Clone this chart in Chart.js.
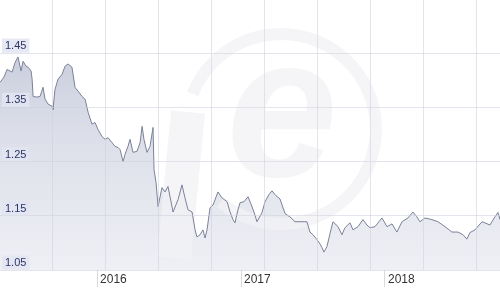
<!DOCTYPE html>
<html>
<head>
<meta charset="utf-8">
<script src="https://cdn.jsdelivr.net/npm/chart.js@4"></script>
<style>
  html, body { margin: 0; padding: 0; background: #fff; }
  #wrap { width: 500px; height: 293px; position: relative; }
</style>
</head>
<body>
<div id="wrap"><canvas id="rateChart"></canvas></div>
<script>
// time in decimal years, rate
const years = [
  2015.326, 2015.354, 2015.375, 2015.410, 2015.431, 2015.451, 2015.472, 2015.486, 2015.507, 2015.521,
  2015.542, 2015.549, 2015.556, 2015.583, 2015.604, 2015.625, 2015.639, 2015.660, 2015.688, 2015.694,
  2015.708, 2015.729, 2015.757, 2015.778, 2015.799, 2015.826, 2015.847, 2015.868, 2015.896, 2015.917,
  2015.938, 2015.965, 2015.986, 2016.007, 2016.035, 2016.056, 2016.076, 2016.104, 2016.125, 2016.146,
  2016.160, 2016.181, 2016.194, 2016.215, 2016.229, 2016.250, 2016.278, 2016.299, 2016.313, 2016.326,
  2016.347, 2016.368, 2016.389, 2016.396, 2016.410, 2016.424, 2016.451, 2016.472, 2016.493, 2016.528,
  2016.563, 2016.590, 2016.611, 2016.632, 2016.660, 2016.681, 2016.694, 2016.715, 2016.736, 2016.750,
  2016.764, 2016.785, 2016.806, 2016.840, 2016.868, 2016.903, 2016.924, 2016.944, 2016.958, 2016.979,
  2016.993, 2017.021, 2017.049, 2017.069, 2017.090, 2017.111, 2017.146, 2017.167, 2017.194, 2017.215,
  2017.243, 2017.271, 2017.306, 2017.340, 2017.375, 2017.410, 2017.458, 2017.479, 2017.500, 2017.528,
  2017.549, 2017.563, 2017.576, 2017.597, 2017.618, 2017.639, 2017.674, 2017.701, 2017.722, 2017.757,
  2017.778, 2017.813, 2017.847, 2017.875, 2017.896, 2017.931, 2017.979, 2018.014, 2018.049, 2018.083,
  2018.118, 2018.160, 2018.194, 2018.222, 2018.243, 2018.278, 2018.326, 2018.368, 2018.417, 2018.465,
  2018.507, 2018.542, 2018.569, 2018.590, 2018.625, 2018.674, 2018.694, 2018.729, 2018.764, 2018.785,
  2018.799
];
const rates = [
  1.396, 1.406, 1.420, 1.415, 1.433, 1.443, 1.417, 1.435, 1.426, 1.424,
  1.417, 1.402, 1.370, 1.369, 1.370, 1.387, 1.365, 1.356, 1.352, 1.346,
  1.383, 1.402, 1.411, 1.426, 1.430, 1.424, 1.387, 1.380, 1.370, 1.365,
  1.341, 1.319, 1.322, 1.309, 1.296, 1.291, 1.294, 1.285, 1.278, 1.276,
  1.272, 1.250, 1.263, 1.278, 1.291, 1.267, 1.269, 1.285, 1.315, 1.291,
  1.267, 1.278, 1.313, 1.235, 1.211, 1.167, 1.202, 1.194, 1.204, 1.157,
  1.180, 1.207, 1.183, 1.161, 1.157, 1.124, 1.111, 1.115, 1.124, 1.109,
  1.124, 1.165, 1.170, 1.194, 1.183, 1.176, 1.157, 1.143, 1.137, 1.161,
  1.174, 1.176, 1.185, 1.172, 1.157, 1.139, 1.156, 1.176, 1.189, 1.196,
  1.187, 1.181, 1.154, 1.148, 1.139, 1.139, 1.139, 1.120, 1.115, 1.106,
  1.098, 1.091, 1.083, 1.093, 1.117, 1.139, 1.130, 1.115, 1.128, 1.137,
  1.124, 1.130, 1.143, 1.133, 1.128, 1.130, 1.146, 1.130, 1.135, 1.120,
  1.139, 1.146, 1.157, 1.148, 1.139, 1.146, 1.143, 1.139, 1.130, 1.120,
  1.120, 1.115, 1.107, 1.119, 1.124, 1.139, 1.137, 1.133, 1.148, 1.156,
  1.143
];
const yearTicks = [2016, 2017, 2018];
const rateTicks = [1.05, 1.15, 1.25, 1.35, 1.45];

const FONT = '"Liberation Sans", Arial, sans-serif';

function noPad(s) {
  s.paddingTop = 0; s.paddingBottom = 0; s.paddingLeft = 0; s.paddingRight = 0;
}

// faint "xe" logo behind the line, drawn over the fill
const watermark = {
  id: 'watermark',
  beforeDatasetsDraw(chart) {
    const c = chart.ctx;
    c.save();
    c.strokeStyle = 'rgba(241,242,246,0.75)';
    c.fillStyle = 'rgba(241,242,246,0.75)';
    c.lineWidth = 12;
    c.beginPath();
    c.arc(281, 129, 95, Math.PI * 1.12, Math.PI * 0.72, false);
    c.stroke();
    c.lineWidth = 34;
    c.lineCap = 'butt';
    c.beginPath();
    c.moveTo(188, 112);
    c.lineTo(174, 258);
    c.stroke();
    c.font = 'bold italic 200px ' + FONT;
    c.textAlign = 'center';
    c.textBaseline = 'alphabetic';
    c.fillText('e', 282, 176);
    c.restore();
  }
};

new Chart(document.getElementById('rateChart'), {
  type: 'line',
  data: {
    datasets: [{
      data: years.map((y, i) => ({ x: y, y: rates[i] })),
      borderColor: '#7b8197',
      borderWidth: 1,
      pointRadius: 0,
      tension: 0,
      fill: 'start',
      backgroundColor: (ctx) => {
        const a = ctx.chart.chartArea;
        if (!a) return 'rgba(200,205,222,0.6)';
        const g = ctx.chart.ctx.createLinearGradient(0, a.top, 0, a.bottom);
        g.addColorStop(0, '#bfc4d6');
        g.addColorStop(0.5, '#dcdfe9');
        g.addColorStop(1, '#eff0f5');
        return g;
      }
    }]
  },
  options: {
    responsive: true,
    maintainAspectRatio: false,
    animation: false,
    layout: { padding: 0 },
    plugins: {
      legend: { display: false },
      tooltip: { enabled: false },
      filler: { drawTime: 'beforeDatasetsDraw' }
    },
    scales: {
      x: {
        type: 'linear',
        position: 'bottom',
        min: 2015.326,
        max: 2018.799,
        afterBuildTicks: (s) => { s.ticks = yearTicks.map(v => ({ value: v })); },
        afterFit: (s) => { s.height = 23; noPad(s); },
        border: { display: false },
        grid: { drawOnChartArea: false, drawTicks: true, tickLength: 17, color: '#d9dae0' },
        ticks: {
          align: 'start',
          labelOffset: 3,
          padding: -15,
          color: '#333333',
          font: { family: FONT, size: 12 },
          callback: (v) => String(v)
        }
      },
      xg: {
        type: 'linear',
        position: 'top',
        min: 0,
        max: 500,
        afterBuildTicks: (s) => {
          const t = [];
          for (let p = 52; p < 500; p += 53) t.push({ value: p });
          s.ticks = t;
        },
        afterFit: (s) => { s.height = 0; noPad(s); },
        border: { display: false },
        grid: { drawTicks: false, color: 'rgba(205,208,220,0.55)', z: 1 },
        ticks: { display: false }
      },
      y: {
        type: 'linear',
        position: 'left',
        min: 1.05,
        max: 1.548,
        afterBuildTicks: (s) => { s.ticks = rateTicks.map(v => ({ value: v })); },
        afterFit: (s) => { s.width = 0; noPad(s); },
        border: { display: false },
        grid: { drawTicks: false, color: 'rgba(205,208,220,0.55)', z: 1 },
        ticks: {
          z: 2,
          mirror: true,
          padding: 5,
          labelOffset: -7,
          showLabelBackdrop: true,
          backdropColor: 'rgba(226,229,242,0.85)',
          backdropPadding: { left: 3, right: 3, top: 1, bottom: 0 },
          color: '#2c3564',
          font: { family: FONT, size: 11 },
          callback: (v) => v.toFixed(2)
        }
      }
    }
  },
  plugins: [watermark]
});
</script>
</body>
</html>
